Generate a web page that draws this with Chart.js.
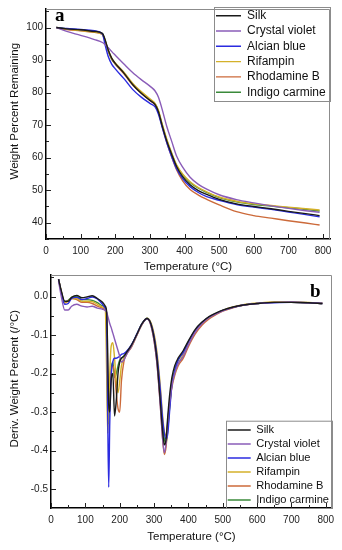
<!DOCTYPE html>
<html><head><meta charset="utf-8">
<script src="https://cdn.jsdelivr.net/npm/chart.js@4.4.1/dist/chart.umd.min.js"></script>
<style>
html,body{margin:0;padding:0;background:#fff;}
body{width:342px;height:550px;position:relative;overflow:hidden;}
#ca{position:absolute;left:0;top:0;}
#cb{position:absolute;left:0;top:262px;}
</style></head><body>
<canvas id="ca" width="342" height="280"></canvas>
<canvas id="cb" width="342" height="288"></canvas>
<script>
// ---------- DATA ----------
const seriesNames = ['Silk', 'Crystal violet', 'Alcian blue', 'Rifampin', 'Rhodamine B', 'Indigo carmine'];

// (a) TGA: temperature (°C) and weight percent remaining
const tgaTemp = [30, 60, 100, 140, 163, 170, 180, 190, 200, 225, 250, 275, 300, 315, 325, 335, 349, 363, 377, 395, 416, 440, 464, 500, 550, 600, 650, 700, 750, 790];
const tgaSilk = [100, 99.6, 99.3, 98.8, 98.2, 96.5, 93, 90.5, 89, 86, 82.5, 79.8, 77.6, 76.3, 74, 70, 65, 61, 57.3, 54.1, 51.7, 49.9, 48.7, 47.2, 45.8, 45.0, 44.3, 43.5, 42.8, 42.2];
const tgaCrystalViolet = [100, 98.8, 97.6, 96.3, 95.4, 94.8, 93.8, 92.6, 91.5, 88.8, 86.2, 84, 82, 80.5, 78.5, 75, 69.5, 65, 60.5, 57, 54, 51.8, 50.3, 48.6, 47.1, 46.1, 45.2, 44.4, 43.7, 43.2];
const tgaAlcianBlue = [100, 99.7, 99.4, 99, 98, 95, 91, 88.7, 87.3, 84.3, 81, 78.6, 76.7, 75.6, 73.3, 69.5, 64.5, 60.3, 56.6, 53.5, 51.1, 49.3, 48, 46.9, 45.6, 44.8, 44.1, 43.3, 42.5, 41.8];
const tgaRifampin = [100, 99.5, 99.1, 98.6, 97.9, 96.2, 93, 90.5, 89.1, 86.3, 82.9, 80.3, 78.1, 76.7, 74.4, 70.5, 65.6, 61.4, 57.8, 54.9, 52.6, 50.8, 49.5, 47.9, 46.6, 45.8, 45.3, 44.8, 44.3, 43.9];
const tgaRhodamineB = [100, 99.4, 99, 98.5, 97.9, 96, 92.8, 90.3, 88.8, 85.8, 82.4, 79.8, 77.6, 76.2, 73.8, 69.7, 64.6, 60.2, 56.3, 52.8, 50.2, 48.5, 47.2, 45.5, 43.4, 42.2, 41.4, 40.6, 39.9, 39.3];
const tgaIndigoCarmine = [100, 99.6, 99.2, 98.7, 98.1, 96.2, 92.7, 90.2, 88.8, 86, 82.6, 80, 77.8, 76.5, 74.2, 70.3, 65.3, 61.2, 57.6, 54.7, 52.4, 50.6, 49.3, 47.7, 46.4, 45.6, 45.1, 44.6, 44.1, 43.6];
const tgaXTicks = [0, 100, 200, 300, 400, 500, 600, 700, 800];
const tgaYTicks = [40, 50, 60, 70, 80, 90, 100];

// (b) DTG: temperature (°C) and derivative weight percent (/°C)
const dtgTemp = [22, 30, 40, 50, 60, 75, 90, 105, 120, 135, 150, 158, 162, 165, 168, 171, 175, 180, 185, 190, 195, 200, 205, 212, 220, 235, 250, 265, 280, 295, 308, 318, 325, 330, 335, 340, 346, 352, 360, 370, 385, 400, 420, 440, 460, 480, 500, 530, 560, 600, 650, 700, 750, 790];
const dtgSilk = [0.045, 0.015, -0.012, -0.012, -0.002, 0.003, -0.003, -0.001, 0.002, -0.005, -0.015, -0.025, -0.04, -0.14, -0.28, -0.3, -0.22, -0.2, -0.31, -0.27, -0.2, -0.17, -0.16, -0.155, -0.145, -0.125, -0.098, -0.07, -0.057, -0.085, -0.16, -0.27, -0.35, -0.385, -0.37, -0.31, -0.25, -0.21, -0.18, -0.16, -0.14, -0.115, -0.085, -0.066, -0.052, -0.043, -0.035, -0.027, -0.022, -0.018, -0.015, -0.015, -0.016, -0.018];
const dtgCrystalViolet = [0.04, 0.0, -0.035, -0.035, -0.025, -0.02, -0.025, -0.027, -0.025, -0.03, -0.033, -0.036, -0.04, -0.05, -0.06, -0.07, -0.08, -0.095, -0.11, -0.125, -0.14, -0.155, -0.17, -0.165, -0.15, -0.128, -0.1, -0.072, -0.058, -0.09, -0.17, -0.28, -0.37, -0.405, -0.38, -0.32, -0.27, -0.23, -0.2, -0.175, -0.155, -0.125, -0.092, -0.07, -0.055, -0.045, -0.037, -0.028, -0.022, -0.018, -0.015, -0.014, -0.016, -0.017];
const dtgAlcianBlue = [0.045, 0.01, -0.02, -0.018, -0.005, -0.002, -0.008, -0.005, -0.001, -0.006, -0.02, -0.03, -0.045, -0.3, -0.495, -0.33, -0.21, -0.17, -0.16, -0.16, -0.158, -0.155, -0.15, -0.148, -0.142, -0.124, -0.097, -0.07, -0.057, -0.083, -0.15, -0.24, -0.32, -0.355, -0.37, -0.355, -0.29, -0.23, -0.195, -0.165, -0.145, -0.118, -0.088, -0.067, -0.053, -0.044, -0.036, -0.028, -0.022, -0.018, -0.016, -0.015, -0.016, -0.018];
const dtgRifampin = [0.045, 0.012, -0.015, -0.012, -0.005, -0.005, -0.012, -0.012, -0.013, -0.02, -0.027, -0.032, -0.2, -0.355, -0.28, -0.2, -0.13, -0.12, -0.16, -0.22, -0.25, -0.22, -0.18, -0.16, -0.148, -0.128, -0.1, -0.072, -0.056, -0.078, -0.14, -0.23, -0.31, -0.35, -0.36, -0.33, -0.28, -0.23, -0.2, -0.175, -0.15, -0.122, -0.09, -0.068, -0.054, -0.044, -0.036, -0.027, -0.021, -0.017, -0.014, -0.014, -0.015, -0.017];
const dtgRhodamineB = [0.045, 0.012, -0.017, -0.012, -0.005, -0.008, -0.015, -0.015, -0.018, -0.025, -0.03, -0.035, -0.05, -0.2, -0.3, -0.27, -0.2, -0.18, -0.2, -0.25, -0.29, -0.3, -0.22, -0.17, -0.15, -0.13, -0.1, -0.072, -0.058, -0.09, -0.17, -0.28, -0.37, -0.41, -0.39, -0.33, -0.27, -0.235, -0.205, -0.18, -0.16, -0.13, -0.097, -0.074, -0.058, -0.047, -0.038, -0.029, -0.023, -0.018, -0.015, -0.015, -0.016, -0.018];
const dtgIndigoCarmine = [0.045, 0.012, -0.015, -0.01, -0.002, 0.0, -0.008, -0.008, -0.01, -0.016, -0.024, -0.03, -0.1, -0.3, -0.33, -0.25, -0.19, -0.17, -0.21, -0.2, -0.18, -0.165, -0.16, -0.155, -0.145, -0.126, -0.098, -0.07, -0.056, -0.083, -0.155, -0.25, -0.33, -0.37, -0.38, -0.345, -0.28, -0.225, -0.19, -0.165, -0.145, -0.118, -0.088, -0.067, -0.053, -0.044, -0.036, -0.028, -0.022, -0.018, -0.015, -0.015, -0.016, -0.018];
const dtgXTicks = [0, 100, 200, 300, 400, 500, 600, 700, 800];
const dtgYTicks = [-0.5, -0.4, -0.3, -0.2, -0.1, 0.0];

// ---------- STYLE ----------
const colors = ['#1a1a1a', '#8a5cb8', '#2b2be0', '#d4b12a', '#cc6a3a', '#3a8a3a'];
const FAM = '"Liberation Sans", Arial, sans-serif';

function buildSets(T, arrays) {
  return arrays.map((vals, i) => ({
    label: seriesNames[i],
    data: T.map((t, j) => ({ x: t, y: vals[j] })),
    borderColor: colors[i],
    backgroundColor: colors[i],
    borderWidth: 1.4,
    pointRadius: 0,
    cubicInterpolationMode: 'monotone',
    fill: false
  }));
}

function halfSteps(ticks, lo, hi) {
  const step = ticks[1] - ticks[0];
  const out = [];
  for (let v = ticks[0] - step / 2; v <= hi + 1e-9; v += step / 2) {
    if (v >= lo - 1e-9) out.push(+v.toFixed(6));
  }
  return out;
}

const framePlugin = {
  id: 'frame',
  beforeDraw(chart, args, o) {
    const lg = chart.legend;
    if (lg && o.legendPos) {
      lg.left = o.legendPos[0]; lg.top = o.legendPos[1];
      lg.right = chart.width; lg.bottom = chart.height;
    }
  },
  beforeDatasetsDraw(chart, args, o) {
    const { ctx, chartArea: a, scales: { x, y } } = chart;
    ctx.save();
    ctx.strokeStyle = '#8c8c8c';
    ctx.lineWidth = 1;
    ctx.beginPath();
    ctx.moveTo(a.left, a.top + 0.5);
    ctx.lineTo(a.right - 0.5, a.top + 0.5);
    ctx.lineTo(a.right - 0.5, a.bottom);
    ctx.stroke();
    ctx.strokeStyle = '#222';
    ctx.beginPath();
    halfSteps(o.xTicks, x.min, x.max).forEach(v => {
      const major = o.xTicks.some(t => Math.abs(t - v) < 1e-6);
      const px = Math.round(x.getPixelForValue(v)) + 0.5;
      ctx.moveTo(px, a.bottom); ctx.lineTo(px, a.bottom - (major ? 5 : 3));
    });
    halfSteps(o.yTicks, y.min, y.max).forEach(v => {
      const major = o.yTicks.some(t => Math.abs(t - v) < 1e-6);
      const py = Math.round(y.getPixelForValue(v)) + 0.5;
      ctx.moveTo(a.left, py); ctx.lineTo(a.left + (major ? 5 : 3), py);
    });
    ctx.stroke();
    ctx.restore();
  },
  afterDraw(chart, args, o) {
    const ctx = chart.ctx;
    ctx.save();
    if (o.legendBox) {
      ctx.strokeStyle = '#8c8c8c';
      ctx.lineWidth = 1;
      const [bx, by, bw, bh] = o.legendBox;
      ctx.strokeRect(bx + 0.5, by + 0.5, bw, bh);
    }
    if (o.letter) {
      ctx.fillStyle = '#000';
      ctx.font = 'bold 19px "Liberation Serif", "DejaVu Serif", serif';
      ctx.textBaseline = 'alphabetic';
      ctx.fillText(o.letter[0], o.letter[1], o.letter[2]);
    }
    ctx.restore();
  }
};

function makeChart(el, cfg) {
  return new Chart(el, {
    type: 'line',
    data: { datasets: buildSets(cfg.T, cfg.arrays) },
    plugins: [framePlugin],
    options: {
      responsive: false,
      animation: false,
      events: [],
      layout: { padding: cfg.padding },
      plugins: {
        legend: {
          display: true,
          position: 'chartArea',
          fullSize: false,
          align: 'start',
          labels: {
            usePointStyle: true,
            pointStyle: 'line',
            pointStyleWidth: cfg.legendLine,
            boxHeight: cfg.legendFont,
            padding: cfg.legendPad,
            color: '#111',
            font: { size: cfg.legendFont, family: FAM }
          }
        },
        tooltip: { enabled: false },
        frame: {
          xTicks: cfg.xTicks, yTicks: cfg.yTicks,
          legendPos: cfg.legendPos, legendBox: cfg.legendBox, letter: cfg.letter
        }
      },
      scales: {
        x: {
          type: 'linear', min: cfg.xMin, max: cfg.xMax,
          afterBuildTicks: s => { s.ticks = cfg.xTicks.map(v => ({ value: v })); },
          afterFit: s => { s.height = cfg.xHeight; },
          grid: { display: true, drawOnChartArea: false, drawTicks: false },
          border: { display: true, color: '#000', width: 1.5 },
          ticks: { padding: 6, color: '#222', autoSkip: false, maxRotation: 0, font: { size: 10, family: FAM } },
          title: { display: true, text: cfg.xTitle, color: '#111', font: { size: 11.5, family: FAM }, padding: { top: 0, bottom: 5.8 } }
        },
        y: {
          type: 'linear', min: cfg.yMin, max: cfg.yMax,
          afterBuildTicks: s => { s.ticks = cfg.yTicks.map(v => ({ value: v })); },
          afterFit: s => { s.width = cfg.yWidth; },
          grid: { display: true, drawOnChartArea: false, drawTicks: false },
          border: { display: true, color: '#000', width: 1.5 },
          ticks: { padding: 3, color: '#222', autoSkip: false, font: { size: 10, family: FAM }, callback: cfg.yFmt },
          title: { display: true, text: cfg.yTitle, color: '#111', font: { size: 11.5, family: FAM }, padding: { top: 7.8, bottom: 0 } }
        }
      }
    }
  });
}

makeChart(document.getElementById('ca'), {
  T: tgaTemp,
  arrays: [tgaSilk, tgaCrystalViolet, tgaAlcianBlue, tgaRifampin, tgaRhodamineB, tgaIndigoCarmine],
  padding: { left: 0, right: 12, top: 7, bottom: 0 },
  xMin: 0, xMax: 820, yMin: 35, yMax: 105.7,
  xTicks: tgaXTicks, yTicks: tgaYTicks,
  xHeight: 41, yWidth: 46,
  xTitle: 'Temperature (°C)',
  yTitle: '        Weight Percent Remaining',
  yFmt: v => String(v),
  legendFont: 12, legendPad: 3.3, legendLine: 25,
  legendPos: [212.7, 6.4],
  legendBox: [214, 7, 116, 94],
  letter: ['a', 55, 20.7]
});

makeChart(document.getElementById('cb'), {
  T: dtgTemp,
  arrays: [dtgSilk, dtgCrystalViolet, dtgAlcianBlue, dtgRifampin, dtgRhodamineB, dtgIndigoCarmine],
  padding: { left: 0, right: 10, top: 13, bottom: 0 },
  xMin: 0, xMax: 818, yMin: -0.549, yMax: 0.056,
  xTicks: dtgXTicks, yTicks: dtgYTicks,
  xHeight: 42, yWidth: 51,
  xTitle: 'Temperature (°C)',
  yTitle: '        Deriv. Weight Percent (/°C)',
  yFmt: v => Number(v).toFixed(1),
  legendFont: 11.1, legendPad: 2.9, legendLine: 23,
  legendPos: [224.8, 159.6],
  legendBox: [226, 158.7, 106, 87.3],
  letter: ['b', 310, 35.3]
});
</script>
</body></html>
